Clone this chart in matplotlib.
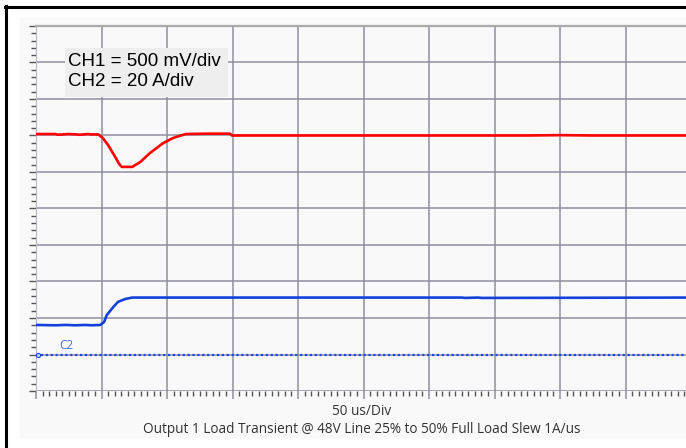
import numpy as np
import matplotlib.pyplot as plt
from matplotlib.patches import Rectangle
from matplotlib.ticker import MultipleLocator

# scope traces, in screen divisions (x: 50 us/div, y: 10 div)
ch1_t = [0.00, 0.15, 0.30, 0.33, 0.50, 0.62, 0.66, 0.80, 0.84, 0.95, 1.02, 1.10,
         1.21, 1.27, 1.31, 1.47, 1.59, 1.74, 1.94, 2.09, 2.23, 2.29, 2.60, 2.96,
         2.99, 3.50, 4.00, 4.50, 5.00, 5.50, 6.00, 6.50, 7.00, 7.50, 8.00, 8.50,
         9.00, 9.50, 10.00]
ch1_v = [7.04, 7.04, 7.04, 7.02, 7.04, 7.03, 7.02, 7.04, 7.03, 7.03, 6.93, 6.74,
         6.41, 6.22, 6.14, 6.14, 6.27, 6.52, 6.79, 6.93, 7.01, 7.04, 7.05, 7.05,
         7.00, 7.00, 7.00, 7.00, 7.00, 7.00, 7.00, 7.00, 7.00, 7.00, 7.01, 7.00,
         7.00, 7.00, 7.00]

ch2_t = [0.00, 0.30, 0.45, 0.60, 0.75, 0.85, 0.98, 1.04, 1.08, 1.18, 1.25, 1.36,
         1.47, 3.00, 6.50, 6.55, 6.75, 6.80, 10.00]
ch2_v = [1.81, 1.80, 1.81, 1.80, 1.81, 1.80, 1.81, 1.89, 2.08, 2.30, 2.44, 2.52,
         2.56, 2.56, 2.56, 2.55, 2.56, 2.55, 2.56]

ch2_ground = 1.0
scale_lines = ['CH1 = 500 mV/div', 'CH2 = 20 A/div']
time_label = '50 us/Div'
caption = 'Output 1 Load Transient @ 48V Line 25% to 50% Full Load Slew 1A/us'

W, H = 686, 448
fig = plt.figure(figsize=(W / 100, H / 100), dpi=100)
fig.patch.set_facecolor('white')

# panel background and black frame
fig.patches.append(Rectangle((20 / W, 1 - 437 / H), 666 / W, 419 / H,
                             transform=fig.transFigure, color='#f9f9f9', zorder=-5))
fig.add_artist(plt.Line2D([5 / W, 1], [1 - 7 / H] * 2, color='black', lw=2.2))
fig.add_artist(plt.Line2D([6 / W] * 2, [0, 1 - 6 / H], color='black', lw=2.2))

ax = fig.add_axes([36 / W, 57 / H, 655 / W, 365 / H])
ax.set_zorder(2)
ax.set_facecolor('#f9f9f9')
ax.set_xlim(0, 10)
ax.set_ylim(0, 10)

grid_c = '#8e8ea2'
ax.xaxis.set_major_locator(MultipleLocator(1))
ax.xaxis.set_minor_locator(MultipleLocator(0.1))
ax.yaxis.set_major_locator(MultipleLocator(1))
ax.yaxis.set_minor_locator(MultipleLocator(0.2))
ax.grid(True, which='major', color=grid_c, lw=1.1)
ax.set_xticklabels([])
ax.set_yticklabels([])
ax.tick_params(axis='x', which='major', length=6, width=1.1, color=grid_c)
ax.tick_params(axis='x', which='minor', length=3.5, width=1.0, color='#555555')
ax.tick_params(axis='y', which='major', length=5, width=1.0, color='#555555')
ax.tick_params(axis='y', which='minor', length=3.5, width=1.0, color='#555555')

for s in ['right', 'bottom']:
    ax.spines[s].set_visible(False)
ax.spines['top'].set_color('#ababab')
ax.spines['top'].set_linewidth(1.6)
ax.spines['left'].set_color('#b8b8c4')
ax.spines['left'].set_linewidth(0.8)

ax.plot(ch1_t, ch1_v, color='#ff0000', lw=1.9, zorder=5)
ax.plot(ch2_t, ch2_v, color='#1440dc', lw=1.9, zorder=5)
ax.plot([0, 10], [ch2_ground, ch2_ground], color='#1a48e0', lw=1.6,
        linestyle=(0, (1, 1.2)), zorder=4)
ax.plot([0.03], [ch2_ground], marker='o', ms=3, mfc='#c8d4ff', mec='#1a48e0',
        mew=0.8, zorder=6, clip_on=False)
ax.text(0.36, 1.26, 'C2', color='#4a6ee0', fontsize=8.5, family='Open Sans',
        va='center', ha='left')

# scale box
ax.add_patch(Rectangle((0.44, 8.05), 2.49, 1.35, fc='#eeeeee', ec='none', zorder=6))
ax.text(0.49, 8.75, scale_lines[0] + '\n' + scale_lines[1], fontsize=13.5,
        family='Liberation Sans', color='black', va='center', ha='left',
        linespacing=1.25, zorder=7)

fig.text(362 / W, 1 - 411 / H, time_label, ha='center', va='center',
         fontsize=9.8, family='Open Sans', color='#333333')
fig.text(362 / W, 1 - 429 / H, caption, ha='center', va='center',
         fontsize=9.8, family='Open Sans', color='#333333')

fig.savefig('out.png', dpi=100)
